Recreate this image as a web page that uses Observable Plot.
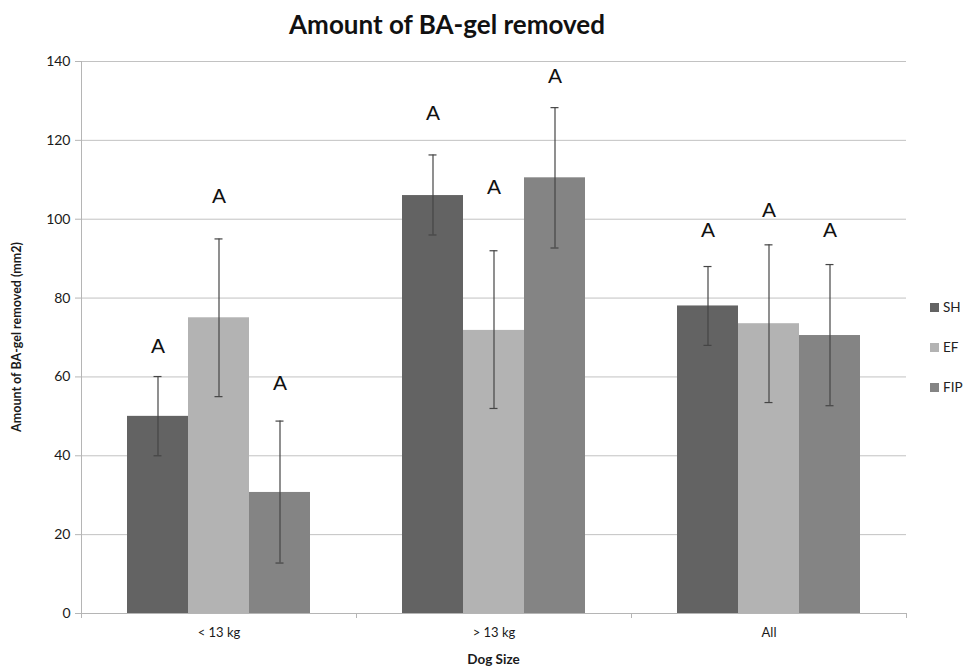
<!DOCTYPE html>
<html>
<head>
<meta charset="utf-8">
<script src="https://cdn.jsdelivr.net/npm/d3@7"></script>
<script src="https://cdn.jsdelivr.net/npm/@observablehq/plot@0.6"></script>
<style>
  html, body { margin: 0; padding: 0; background: #fff; }
  #wrap { position: relative; width: 964px; height: 668px; font-family: Lato, "Open Sans", sans-serif; }
  #title { position: absolute; left: 0; top: 0; width: 894px; height: 45px; text-align: center;
           font-weight: bold; font-size: 26px; line-height: 48px; color: #111; }
  #chart { position: absolute; left: 0; top: 45px; }
  #legend { position: absolute; left: 930px; top: 287px; font-size: 13.5px; color: #222; }
  .li { display: flex; align-items: center; height: 40px; }
  .sw { width: 9px; height: 9px; margin-right: 4px; }
</style>
</head>
<body>
<div id="wrap">
  <div id="title">Amount of BA-gel removed</div>
  <div id="chart"></div>
  <div id="legend"></div>
</div>
<script>
const categories = ["< 13 kg", "> 13 kg", "All"];
const series = ["SH", "EF", "FIP"];
const colors = ["#636363", "#b3b3b3", "#848484"];
// mean values per category (rows) and series (columns)
const means = [
  [50.0, 75.0, 30.7],
  [106.0, 71.8, 110.5],
  [78.0, 73.5, 70.5]
];
const errLow = [
  [40.0, 55.0, 12.8],
  [96.0, 52.0, 92.7],
  [68.0, 53.5, 52.7]
];
const errHigh = [
  [60.1, 95.0, 48.8],
  [116.3, 92.0, 128.3],
  [88.0, 93.5, 88.5]
];
// significance letters and their heights (chart units)
const letters = [
  ["A", "A", "A"],
  ["A", "A", "A"],
  ["A", "A", "A"]
];
const letterY = [
  [67.7, 105.8, 58.3],
  [126.8, 108.0, 136.2],
  [97.1, 102.2, 97.1]
];
const yTicks = [0, 20, 40, 60, 80, 100, 120, 140];

const data = [];
categories.forEach((c, i) => series.forEach((s, j) => data.push({
  cat: c, ser: s, v: means[i][j], lo: errLow[i][j], hi: errHigh[i][j],
  letter: letters[i][j], ly: letterY[i][j]
})));

const W = 964, H = 623;
const plot = Plot.plot({
  width: W, height: H,
  marginLeft: 81, marginRight: 58, marginTop: 16, marginBottom: 55,
  style: { fontFamily: "Lato, 'Open Sans', sans-serif", background: "#fff", color: "#1a1a1a" },
  fx: { domain: categories, padding: 0, label: null },
  x: { domain: series, paddingInner: 0, paddingOuter: 0.754, axis: null },
  y: { domain: [0, 140], axis: null },
  color: { domain: series, range: colors },
  marks: [
    Plot.gridY(yTicks, { stroke: "#c2c2c2", strokeOpacity: 1, strokeWidth: 1 }),
    Plot.barY(data, { fx: "cat", x: "ser", y: "v", fill: "ser" }),
    Plot.ruleX(data, { fx: "cat", x: "ser", y1: "lo", y2: "hi", stroke: "#454545", strokeWidth: 1.2 }),
    Plot.tickY(data, { fx: "cat", x: "ser", y: "lo", stroke: "#454545", strokeWidth: 1.2, insetLeft: 26.5, insetRight: 26.5 }),
    Plot.tickY(data, { fx: "cat", x: "ser", y: "hi", stroke: "#454545", strokeWidth: 1.2, insetLeft: 26.5, insetRight: 26.5 }),
    Plot.text(data, { fx: "cat", x: "ser", y: "ly", text: "letter", fontSize: 21, fill: "#111",
                      fontFamily: "'Liberation Sans', Arial, sans-serif" }),
    Plot.ruleY([0], { stroke: "#b5b5b5", strokeWidth: 1 }),
    Plot.axisY({ ticks: yTicks, tickSize: 6, tickPadding: 5, fontSize: 14, stroke: "#b5b5b5", label: null }),
    Plot.axisFx({ anchor: "bottom", tickSize: 0, tickPadding: 14, fontSize: 13, label: null })
  ]
});
document.getElementById("chart").appendChild(plot);

// Excel-style axis decorations built from the plot's own scales
const svg = d3.select(plot);
const fx = plot.scale("fx");
const y = plot.scale("y");
const y0 = y.apply(0), yTop = y.apply(140);
const left = fx.apply(categories[0]);
const step = fx.step || fx.bandwidth;
const g = svg.append("g").attr("stroke", "#b5b5b5").attr("stroke-width", 1);
g.append("line").attr("x1", left + 0.5).attr("x2", left + 0.5).attr("y1", yTop).attr("y2", y0 + 5);
categories.forEach((c, i) => {
  const x = fx.apply(c) + step + 0.5;
  g.append("line").attr("x1", x).attr("x2", x).attr("y1", y0).attr("y2", y0 + 5);
});
const right = fx.apply(categories[categories.length - 1]) + step;
// axis titles
svg.append("text").text("Dog Size")
  .attr("x", (left + right) / 2).attr("y", y0 + 51)
  .attr("text-anchor", "middle").attr("font-size", 13.5).attr("font-weight", "bold").attr("fill", "#1a1a1a");
svg.append("text").text("Amount of BA-gel removed (mm2)")
  .attr("transform", `translate(21,${(y0 + yTop) / 2}) rotate(-90)`)
  .attr("text-anchor", "middle").attr("font-size", 12.5).attr("font-weight", "bold").attr("fill", "#1a1a1a");

// legend
const leg = document.getElementById("legend");
series.forEach((s, i) => {
  const d = document.createElement("div");
  d.className = "li";
  d.innerHTML = `<span class="sw" style="background:${colors[i]}"></span><span>${s}</span>`;
  leg.appendChild(d);
});
</script>
</body>
</html>
